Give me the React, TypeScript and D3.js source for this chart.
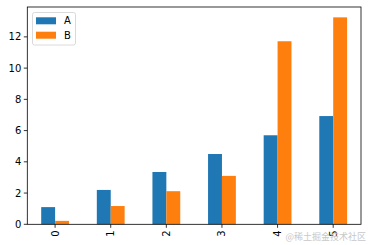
import React from "react";
import * as d3 from "d3";

const categories = ["0", "1", "2", "3", "4", "5"];
const seriesA = [1.1, 2.2, 3.35, 4.5, 5.7, 6.93];
const seriesB = [0.22, 1.17, 2.12, 3.1, 11.72, 13.25];
const seriesNames = ["A", "B"];
const yTicks = [0, 2, 4, 6, 8, 10, 12];
const colors = ["#1f77b4", "#ff7f0e"];

export default function App() {
  const W = 368, H = 245;
  const left = 27.3, right = 361, top = 7, bottom = 224.3;
  const x = d3.scaleLinear().domain([-0.5, categories.length - 0.5]).range([left, right]);
  const yMax = d3.max(seriesB.concat(seriesA))! * 1.05;
  const y = d3.scaleLinear().domain([0, yMax]).range([bottom, top]);
  const bw = 0.25;
  const font = "DejaVu Sans, sans-serif";
  const series = [seriesA, seriesB];
  return (
    <svg width={W} height={H} style={{ position: "absolute", left: 0, top: 0 }} fontFamily={font}>
      <rect width={W} height={H} fill="#fff" />
      {series.map((s, si) =>
        s.map((v, i) => (
          <rect
            key={`${si}-${i}`}
            x={x(i - bw + si * bw)}
            width={x(bw) - x(0)}
            y={y(v)}
            height={y(0) - y(v)}
            fill={colors[si]}
          />
        ))
      )}
      {/* y ticks */}
      {yTicks.map((t) => (
        <g key={t}>
          <line x1={left - 3.5} x2={left} y1={y(t)} y2={y(t)} stroke="#000" strokeWidth={0.8} />
          <text x={left - 6} y={y(t)} dy="0.35em" fontSize={10} textAnchor="end" fill="#000">
            {t}
          </text>
        </g>
      ))}
      {/* x ticks */}
      {categories.map((c, i) => (
        <g key={c}>
          <line x1={x(i)} x2={x(i)} y1={bottom} y2={bottom + 3.5} stroke="#000" strokeWidth={0.8} />
          <text
            transform={`translate(${x(i)},${bottom + 6}) rotate(-90)`}
            dy="0.35em"
            fontSize={10}
            textAnchor="end"
            fill="#000"
          >
            {c}
          </text>
        </g>
      ))}
      <rect x={left} y={top} width={right - left} height={bottom - top} fill="none" stroke="#000" strokeWidth={0.8} />
      {/* legend */}
      <rect x={32.5} y={12.5} width={43} height={32.5} rx={2} fill="#fff" fillOpacity={0.8} stroke="#d0d0d0" strokeWidth={0.8} />
      {seriesNames.map((n, i) => (
        <g key={n}>
          <rect x={36} y={17.3 + i * 14.4} width={20} height={7} fill={colors[i]} />
          <text x={64} y={20.8 + i * 14.4} dy="0.35em" fontSize={10} fill="#000">
            {n}
          </text>
        </g>
      ))}
      <text x={366} y={240} fontSize={9} textAnchor="end" fill="#c8c8c8" fontFamily="Noto Sans CJK SC, sans-serif">
        @稀土掘金技术社区
      </text>
    </svg>
  );
}
